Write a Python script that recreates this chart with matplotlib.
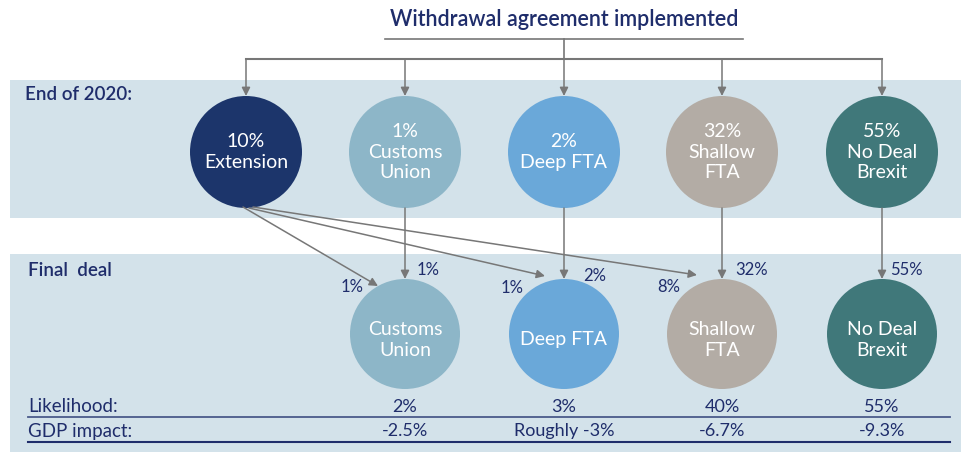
import matplotlib
matplotlib.use("Agg")
import matplotlib.pyplot as plt
from matplotlib.patches import Circle, Rectangle, FancyArrowPatch

# ---- data ----
title = "Withdrawal agreement implemented"
stage_labels = ["End of 2020:", "Final  deal"]
end2020_names = ["Extension", "Customs\nUnion", "Deep FTA", "Shallow\nFTA", "No Deal\nBrexit"]
end2020_probs = ["10%", "1%", "2%", "32%", "55%"]
final_names = ["Customs\nUnion", "Deep FTA", "Shallow\nFTA", "No Deal\nBrexit"]
direct_probs = ["1%", "2%", "32%", "55%"]
from_extension_probs = ["1%", "1%", "8%"]
likelihood = ["2%", "3%", "40%", "55%"]
gdp_impact = ["-2.5%", "Roughly -3%", "-6.7%", "-9.3%"]
row_labels = ["Likelihood:", "GDP impact:"]

colors_top = ["#1c356b", "#8db6c8", "#6aa8d9", "#b3aca5", "#40787a"]
colors_bot = ["#8db6c8", "#6aa8d9", "#b3aca5", "#40787a"]
navy = "#1f2d6b"
band = "#d3e2ea"
grey = "#777777"

FONT = ["Lato", "DejaVu Sans"]
plt.rcParams['font.family'] = FONT

fig = plt.figure(figsize=(9.61, 4.55), dpi=100)
ax = fig.add_axes([0, 0, 1, 1])
ax.set_xlim(0, 961)
ax.set_ylim(455, 0)
ax.axis("off")

# bands
ax.add_patch(Rectangle((10, 80), 951, 138, color=band, lw=0))
ax.add_patch(Rectangle((10, 254), 951, 198, color=band, lw=0))

# title
ax.text(564, 19, title, ha="center", va="center", fontsize=15.5, color=navy, fontweight="semibold")
ax.plot([385, 743], [39, 39], color=grey, lw=1.2)
ax.plot([564, 564], [39, 59], color=grey, lw=1.2)

xs_top = [246, 405, 564, 722, 882]
xs_bot = xs_top[1:]
y_top, r_top = 152, 56
y_bot, r_bot = 334, 55

ax.plot([xs_top[0], xs_top[-1]], [59, 59], color=grey, lw=1.5)

def arrow(p0, p1):
    a = FancyArrowPatch(p0, p1, arrowstyle="-|>,head_length=5,head_width=2.5",
                        color=grey, lw=1.1, shrinkA=0, shrinkB=0, zorder=3)
    ax.add_patch(a)

for x in xs_top:
    arrow((x, 59), (x, y_top - r_top))

# stage labels
ax.text(25, 94, stage_labels[0], ha="left", va="center", fontsize=13.5, color=navy, fontweight="semibold")
ax.text(28, 270, stage_labels[1], ha="left", va="center", fontsize=13.5, color=navy, fontweight="semibold")

# top circles
for x, c, n, p in zip(xs_top, colors_top, end2020_names, end2020_probs):
    ax.add_patch(Circle((x, y_top), r_top, color=c, lw=0, zorder=2))
    ax.text(x, y_top, p + "\n" + n, ha="center", va="center", fontsize=14,
            color="white", linespacing=1.22, zorder=4)

# bottom circles
for x, c, n in zip(xs_bot, colors_bot, final_names):
    ax.add_patch(Circle((x, y_bot), r_bot, color=c, lw=0, zorder=2))
    ax.text(x, y_bot + 6, n, ha="center", va="center", fontsize=14,
            color="white", linespacing=1.22, zorder=4)

# direct arrows
for x in xs_bot:
    arrow((x, y_top + r_top), (x, y_bot - r_bot))
direct_lbl_pos = [(428, 270), (595, 276), (752, 270), (906, 270)]
for (lx, ly), t in zip(direct_lbl_pos, direct_probs):
    ax.text(lx, ly, t, ha="center", va="center", fontsize=12, color=navy)

# extension arrows
ext_targets = [(378, 286), (545, 276), (697, 275)]
ext_starts = [(243, 207), (249, 208), (253, 207)]
for s, t in zip(ext_starts, ext_targets):
    arrow(s, t)
ext_lbl_pos = [(352, 287), (512, 288), (669, 287)]
for (lx, ly), t in zip(ext_lbl_pos, from_extension_probs):
    ax.text(lx, ly, t, ha="center", va="center", fontsize=12, color=navy)

# table rows
ax.text(28, 407, row_labels[0], ha="left", va="center", fontsize=13.5, color=navy)
ax.text(28, 431, row_labels[1], ha="left", va="center", fontsize=13.5, color=navy)
ax.plot([28, 950], [417, 417], color="#4a5a8a", lw=1.3)
ax.plot([28, 950], [442, 442], color=navy, lw=1.5)
for x, l, g in zip(xs_bot, likelihood, gdp_impact):
    ax.text(x, 407, l, ha="center", va="center", fontsize=13, color=navy)
    ax.text(x, 431, g, ha="center", va="center", fontsize=13, color=navy)

fig.savefig("out.png", dpi=100)
